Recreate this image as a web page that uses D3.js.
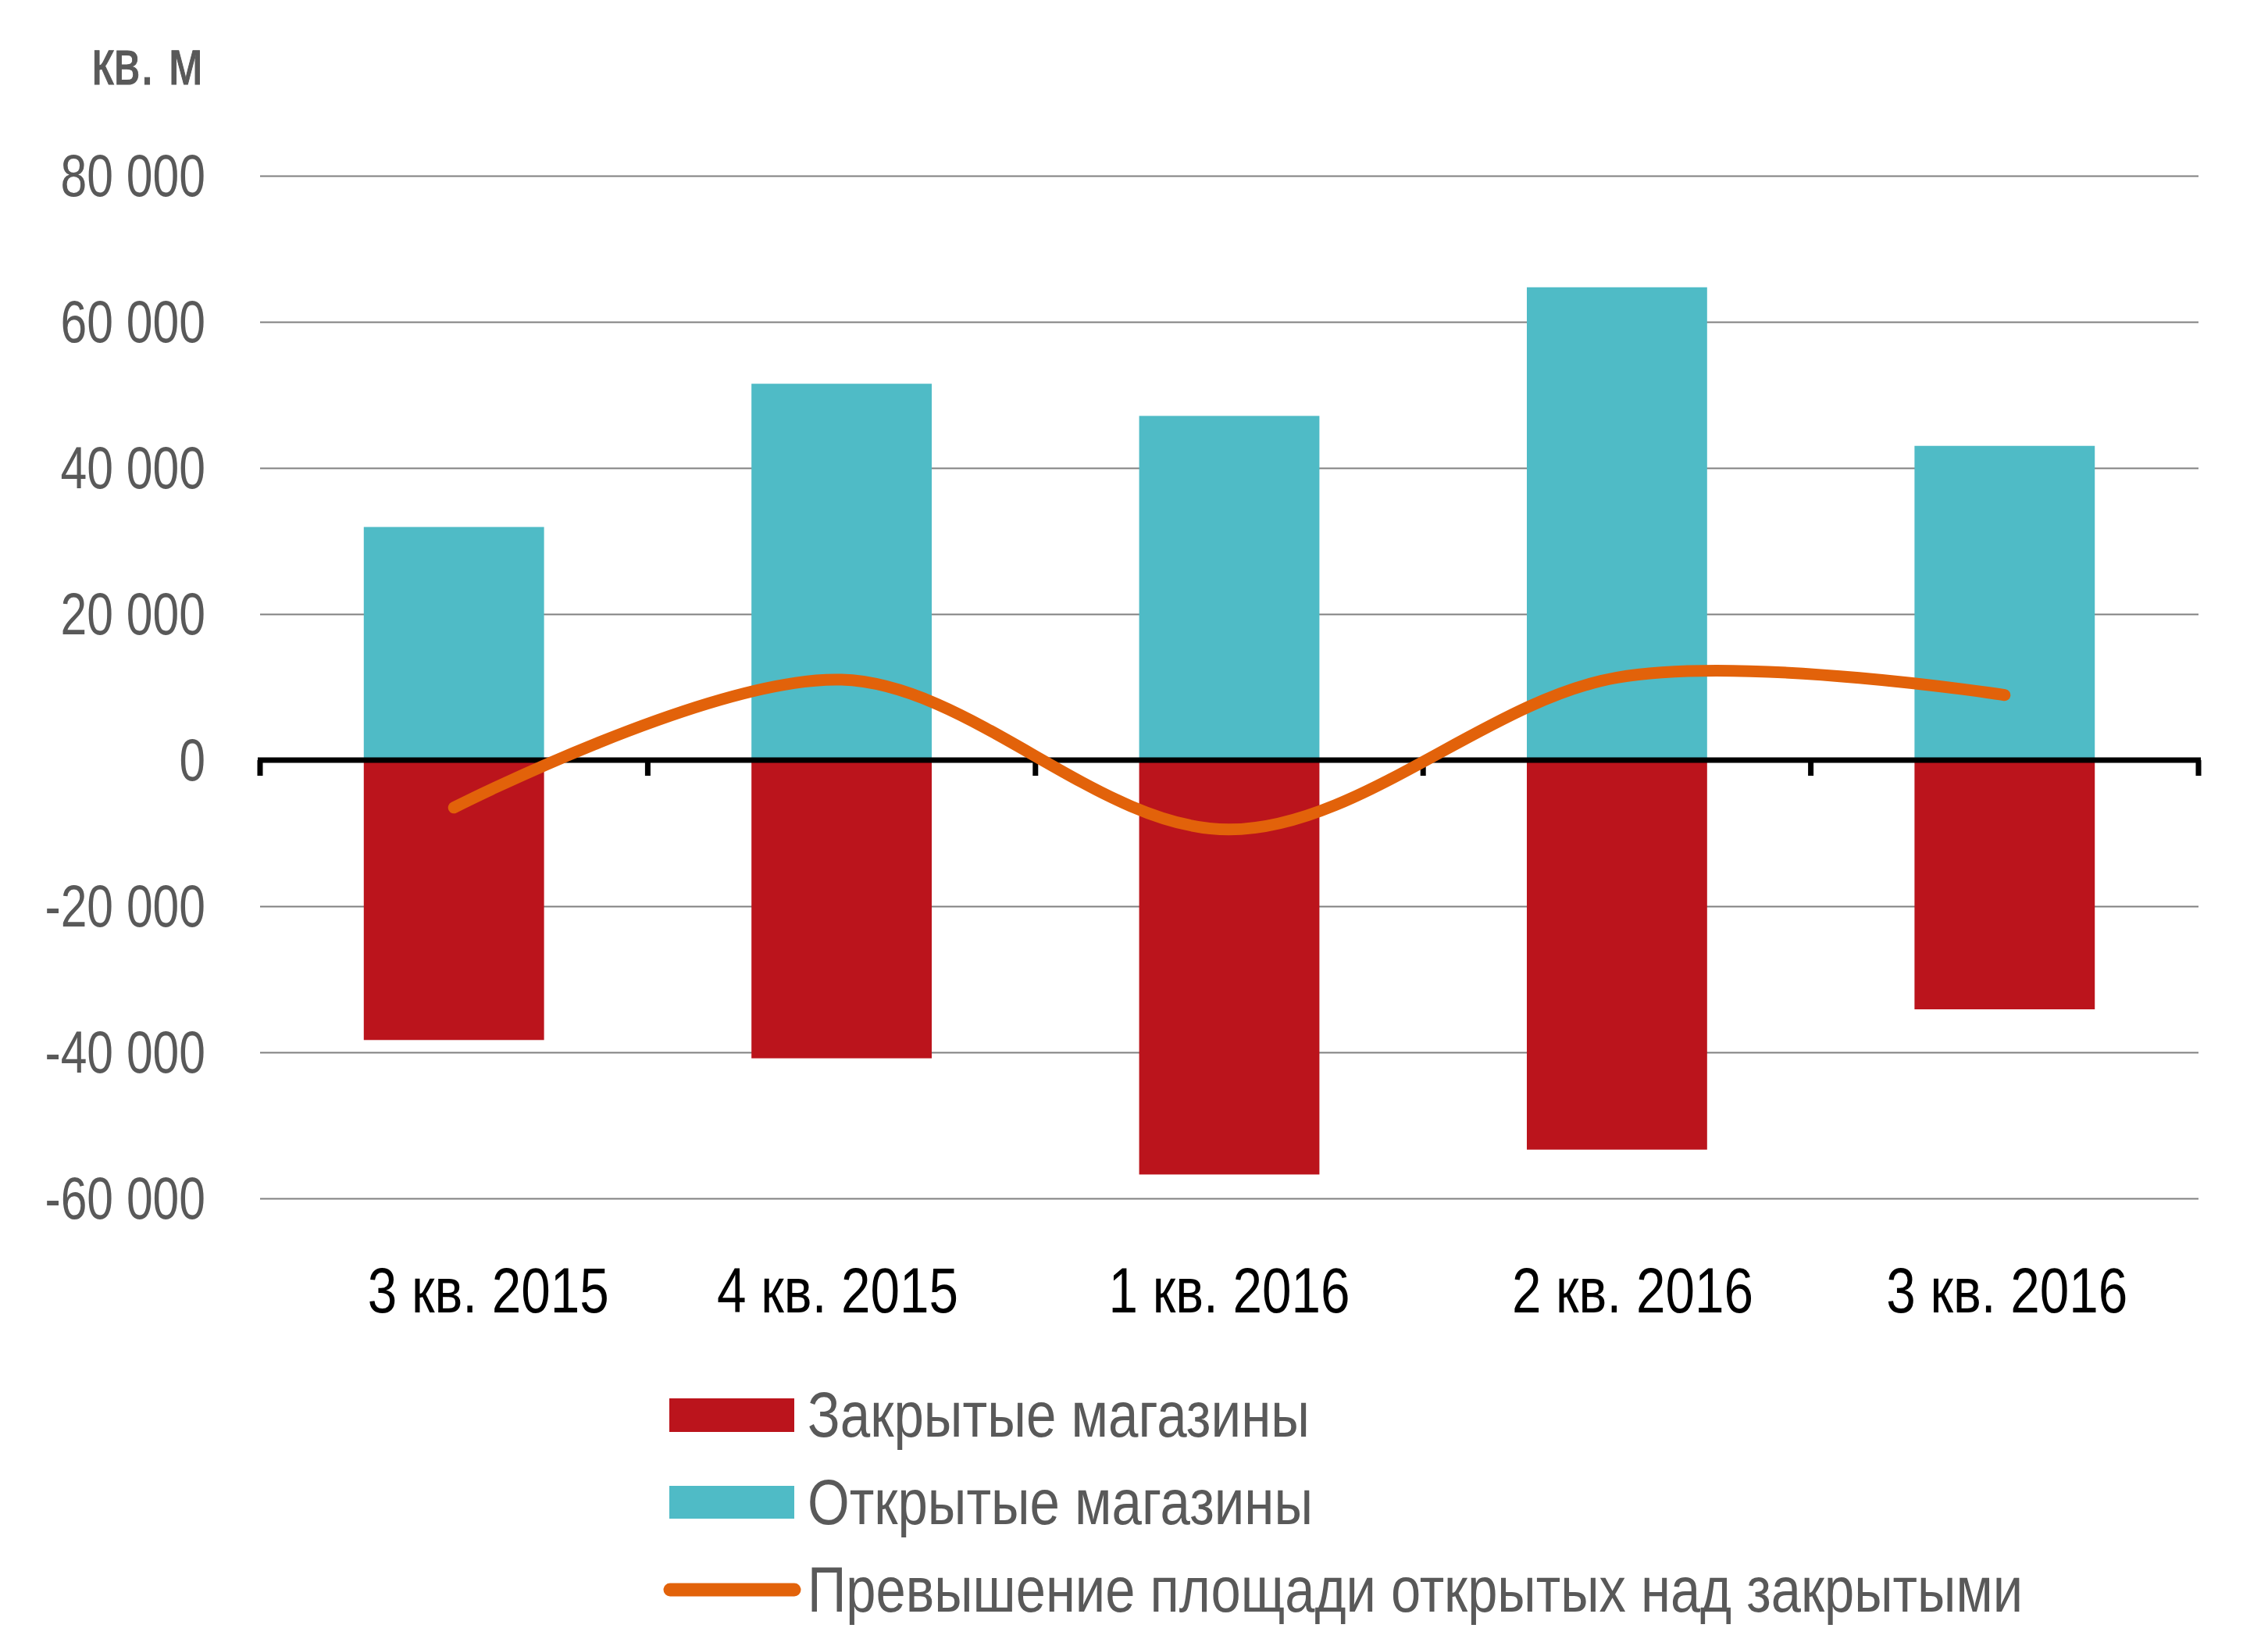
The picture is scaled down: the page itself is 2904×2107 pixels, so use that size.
<!DOCTYPE html>
<html>
<head>
<meta charset="utf-8">
<script src="https://cdn.jsdelivr.net/npm/d3@7"></script>
<style>
  html, body { margin: 0; padding: 0; background: #ffffff; }
  svg { display: block; }
</style>
</head>
<body>
<script>
// ---- data ----
const categories = ["3 кв. 2015", "4 кв. 2015", "1 кв. 2016", "2 кв. 2016", "3 кв. 2016"];
const openedStores = [31900, 51500, 47100, 64700, 43000];
const closedStores = [-38300, -40800, -56700, -53300, -34100];
const netExcess = [-6500, 11000, -9500, 11300, 8900];
const yTicks = [-60000, -40000, -20000, 0, 20000, 40000, 60000, 80000];
const unitLabel = "кв. м";
const seriesNames = ["Закрытые магазины", "Открытые магазины", "Превышение площади открытых над закрытыми"];

// ---- layout ----
const W = 2904, H = 2107;
const plotLeft = 333, plotRight = 2815;
const colors = { open: "#4FBBC6", closed: "#BB141C", line: "#E2620A", text: "#595959", grid: "#808080" };
const fontNarrow = "'Liberation Sans Narrow', 'Arial Narrow', 'Liberation Sans', Arial, sans-serif";
const fontReg = "'Liberation Sans', Arial, sans-serif";

const svg = d3.select("body").append("svg")
  .attr("width", W).attr("height", H)
  .attr("viewBox", `0 0 ${W} ${H}`);

svg.append("rect").attr("width", W).attr("height", H).attr("fill", "#fff");

const x = d3.scaleBand()
  .domain(categories)
  .range([plotLeft, plotRight])
  .paddingInner(0.535)
  .paddingOuter(0.2675);

const y = d3.scaleLinear()
  .domain([-60000, 80000])
  .range([1534.3, 224.6]);

const locale = d3.formatLocale({ decimal: ",", thousands: " ", grouping: [3], currency: ["", ""], minus: "-" });
const fmt = locale.format(",d");

// width of a condensed tick label (narrow face emulation)
function labelWidth(s) {
  let w = 0;
  for (const ch of s) w += ch === " " ? 18 : (ch === "-" ? 20 : 33.5);
  return w;
}

// gridlines
svg.append("g").selectAll("line")
  .data(yTicks.filter(v => v !== 0))
  .join("line")
  .attr("x1", plotLeft).attr("x2", plotRight)
  .attr("y1", d => Math.round(y(d)) + 0.5).attr("y2", d => Math.round(y(d)) + 0.5)
  .attr("stroke", colors.grid).attr("stroke-width", 2);

// y tick labels
svg.append("g").selectAll("text")
  .data(yTicks)
  .join("text")
  .attr("x", 263)
  .attr("y", d => y(d) + 26)
  .attr("text-anchor", "end")
  .attr("font-family", fontNarrow)
  .attr("font-size", 76)
  .attr("fill", colors.text)
  .attr("textLength", d => labelWidth(fmt(d)))
  .attr("lengthAdjust", "spacingAndGlyphs")
  .text(d => fmt(d));

// unit label
svg.append("text")
  .attr("x", 260).attr("y", 108)
  .attr("text-anchor", "end")
  .attr("font-family", fontReg)
  .attr("font-size", 82)
  .attr("fill", colors.text)
  .attr("stroke", colors.text)
  .attr("stroke-width", 1.2)
  .attr("textLength", 143)
  .attr("lengthAdjust", "spacingAndGlyphs")
  .text(unitLabel);

// bars: opened
svg.append("g").selectAll("rect")
  .data(categories.map((c, i) => ({ c, v: openedStores[i] })))
  .join("rect")
  .attr("x", d => x(d.c))
  .attr("width", x.bandwidth())
  .attr("y", d => y(d.v))
  .attr("height", d => y(0) - y(d.v))
  .attr("fill", colors.open);

// bars: closed
svg.append("g").selectAll("rect")
  .data(categories.map((c, i) => ({ c, v: closedStores[i] })))
  .join("rect")
  .attr("x", d => x(d.c))
  .attr("width", x.bandwidth())
  .attr("y", y(0))
  .attr("height", d => y(d.v) - y(0))
  .attr("fill", colors.closed);

// zero axis line and ticks
const boundaries = d3.range(categories.length + 1).map(i => plotLeft + i * (plotRight - plotLeft) / categories.length);
svg.append("line")
  .attr("x1", plotLeft - 3).attr("x2", plotRight + 3)
  .attr("y1", y(0)).attr("y2", y(0))
  .attr("stroke", "#000").attr("stroke-width", 7);
svg.append("g").selectAll("line")
  .data(boundaries)
  .join("line")
  .attr("x1", d => d).attr("x2", d => d)
  .attr("y1", y(0)).attr("y2", y(0) + 20)
  .attr("stroke", "#000").attr("stroke-width", 7);

// x labels
const labelDx = [44, -5, 0, 20, 3];
svg.append("g").selectAll("text")
  .data(categories)
  .join("text")
  .attr("x", (d, i) => x(d) + x.bandwidth() / 2 + labelDx[i])
  .attr("y", 1680)
  .attr("text-anchor", "middle")
  .attr("font-family", fontNarrow)
  .attr("font-size", 82)
  .attr("fill", "#000")
  .attr("textLength", 309)
  .attr("lengthAdjust", "spacingAndGlyphs")
  .text(d => d);

// line
const lineGen = d3.line()
  .x((d, i) => x(categories[i]) + x.bandwidth() / 2)
  .y(d => y(d))
  .curve(d3.curveCardinal.tension(0));
svg.append("path")
  .datum(netExcess)
  .attr("d", lineGen)
  .attr("fill", "none")
  .attr("stroke", colors.line)
  .attr("stroke-width", 15)
  .attr("stroke-linecap", "round")
  .attr("stroke-linejoin", "round");

// legend
const legendX = 857, legendTextX = 1034;
const legendBaselines = [1839, 1951, 2063];
const legendWidths = [643, 647, 1556];
const lg = svg.append("g");
lg.append("rect").attr("x", legendX).attr("y", 1790).attr("width", 160).attr("height", 43).attr("fill", colors.closed);
lg.append("rect").attr("x", legendX).attr("y", 1902).attr("width", 160).attr("height", 42).attr("fill", colors.open);
lg.append("line").attr("x1", legendX + 1).attr("x2", legendX + 160)
  .attr("y1", 2035).attr("y2", 2035)
  .attr("stroke", colors.line).attr("stroke-width", 17).attr("stroke-linecap", "round");
lg.selectAll("text")
  .data(seriesNames)
  .join("text")
  .attr("x", legendTextX)
  .attr("y", (d, i) => legendBaselines[i])
  .attr("font-family", fontNarrow)
  .attr("font-size", 82)
  .attr("fill", colors.text)
  .attr("textLength", (d, i) => legendWidths[i])
  .attr("lengthAdjust", "spacingAndGlyphs")
  .text(d => d);
</script>
</body>
</html>
